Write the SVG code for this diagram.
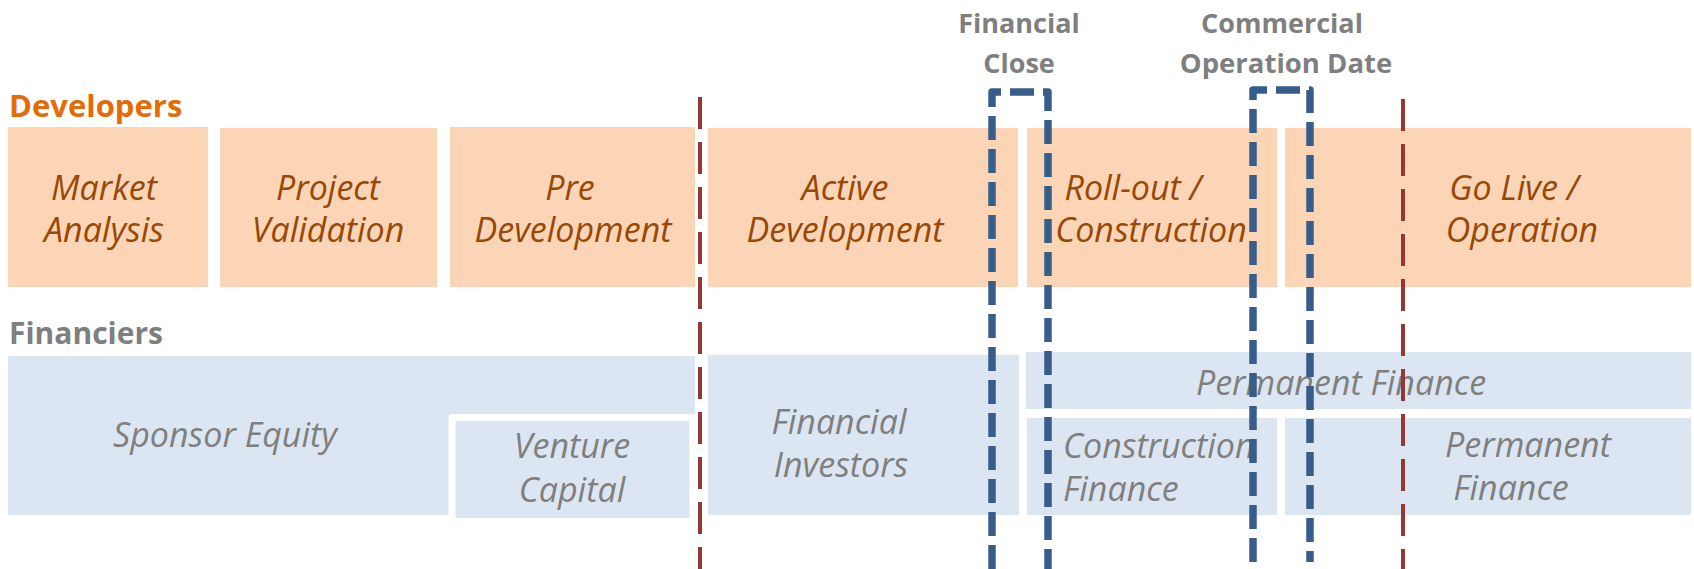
<svg xmlns="http://www.w3.org/2000/svg" width="1694" height="569" viewBox="0 0 1694 569">
<style>
.dev{fill:#FBD5B5}
.fin{fill:#DCE6F2}
.dt{font-family:"Open Sans","Liberation Sans",sans-serif;font-style:italic;font-size:34px;fill:#984807;text-anchor:middle}
.ft{font-family:"Open Sans","Liberation Sans",sans-serif;font-style:italic;font-size:34px;fill:#7F7F7F;text-anchor:middle}
.lbl{font-family:"Open Sans","Liberation Sans",sans-serif;font-weight:bold;font-size:30px}
.hdr{font-family:"Open Sans","Liberation Sans",sans-serif;font-weight:bold;font-size:27px;fill:#7F7F7F;text-anchor:middle}
.red{stroke:#953735;stroke-width:4;fill:none;stroke-dasharray:32 13}
.blue{stroke:#385D8A;stroke-width:7.5;fill:none;stroke-dasharray:24 9;stroke-linejoin:round}
</style>
<rect width="1694" height="569" fill="#FFFFFF"/>
<text id="lbl-developers" class="lbl" x="9" y="117" fill="#E36C09" style="font-size:31px">Developers</text>
<text id="lbl-financiers" class="lbl" x="9" y="344" fill="#7F7F7F">Financiers</text>
<g id="hdr-financial-close">
<text class="hdr" x="1019" y="33">Financial</text>
<text class="hdr" x="1019" y="73">Close</text>
</g>
<g id="hdr-cod">
<text class="hdr" x="1282" y="33">Commercial</text>
<text class="hdr" x="1286" y="73" style="font-size:27.5px">Operation Date</text>
</g>
<g id="dev-market">
<rect class="dev" x="8" y="127" width="200" height="160"/>
<text class="dt" x="104" y="200">Market</text>
<text class="dt" x="104" y="242">Analysis</text>
</g>
<g id="dev-project">
<rect class="dev" x="220" y="128" width="217" height="159"/>
<text class="dt" x="328" y="200">Project</text>
<text class="dt" x="328" y="242">Validation</text>
</g>
<g id="dev-pre">
<rect class="dev" x="450" y="127" width="245" height="160"/>
<text class="dt" x="570" y="200">Pre</text>
<text class="dt" x="573" y="242">Development</text>
</g>
<g id="dev-active">
<rect class="dev" x="708" y="128" width="310" height="159"/>
<text class="dt" x="845" y="200">Active</text>
<text class="dt" x="845" y="242">Development</text>
</g>
<g id="dev-rollout">
<rect class="dev" x="1027" y="128" width="250" height="159"/>
<text class="dt" x="1133" y="200">Roll-out /</text>
<text class="dt" x="1151" y="242">Construction</text>
</g>
<g id="dev-golive">
<rect class="dev" x="1285" y="128" width="406" height="159"/>
<text class="dt" x="1514" y="200">Go Live /</text>
<text class="dt" x="1522" y="242">Operation</text>
</g>
<g id="fin-sponsor">
<rect class="fin" x="8" y="356" width="687" height="159"/>
<text class="ft" x="225" y="447">Sponsor Equity</text>
</g>
<g id="fin-venture">
<rect class="fin" x="452" y="417.5" width="241" height="104" stroke="#FFFFFF" stroke-width="7" stroke-linejoin="round"/>
<text class="ft" x="572" y="458">Venture</text>
<text class="ft" x="572" y="502">Capital</text>
</g>
<g id="fin-investors">
<rect class="fin" x="708" y="355" width="311" height="160"/>
<text class="ft" x="839" y="434">Financial</text>
<text class="ft" x="841" y="477">Investors</text>
</g>
<g id="fin-permanent-top">
<rect class="fin" x="1026" y="352" width="665" height="57"/>
<text class="ft" x="1341" y="395">Permanent Finance</text>
</g>
<g id="fin-construction">
<rect class="fin" x="1027" y="418" width="250" height="97"/>
<text class="ft" x="1063" y="458" style="text-anchor:start">Construction</text>
<text class="ft" x="1063" y="501" style="text-anchor:start">Finance</text>
</g>
<g id="fin-permanent">
<rect class="fin" x="1285" y="418" width="406" height="97"/>
<text class="ft" x="1528" y="457">Permanent</text>
<text class="ft" x="1511" y="500">Finance</text>
</g>
<g id="connectors">
<line class="red" x1="700" y1="97" x2="700" y2="569"/>
<line class="red" x1="1403" y1="99" x2="1403" y2="569"/>
<path class="blue" d="M992,569 V92 H1048 V569"/>
<path class="blue" d="M1253,562 V90 H1310 V562"/>
</g>
</svg>
